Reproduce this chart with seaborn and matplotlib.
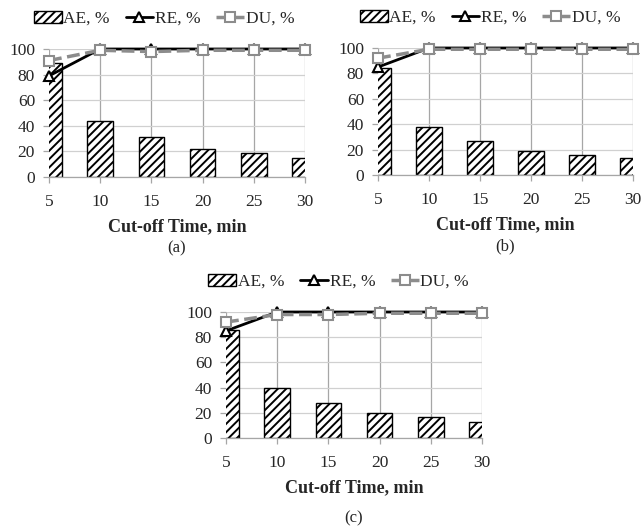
import matplotlib
matplotlib.use("Agg")
import matplotlib.pyplot as plt
import seaborn as sns
import pandas as pd

sns.set_theme(style="white")
plt.rcParams['font.family'] = ['Liberation Serif', 'DejaVu Serif']
plt.rcParams['hatch.linewidth'] = 1.4

cutoff = [5, 10, 15, 20, 25, 30]
ae_a = [89, 44, 31, 22, 19, 15]
re_a = [79, 100, 100, 100, 100, 100]
du_a = [91, 99, 98, 99, 99, 99]
ae_b = [84, 38, 27, 19, 16, 13]
re_b = [85, 100, 100, 100, 100, 100]
du_b = [92, 99, 99, 99, 99, 99]
ae_c = [86, 40, 28, 20, 17, 13]
re_c = [85, 100, 100, 100, 100, 100]
du_c = [92, 98, 98, 99, 99, 99]
panel_labels = ['(a)', '(b)', '(c)']
yticks = [0, 20, 40, 60, 80, 100]

W, H = 643, 529
fig = plt.figure(figsize=(W / 100, H / 100), dpi=100)

def rect(x0, x1, ytop, ybot):
    return [x0 / W, (H - ybot) / H, (x1 - x0) / W, (ybot - ytop) / H]

rects = [rect(49, 305, 49, 177), rect(378, 633, 48, 175), rect(226, 482, 312, 438)]
datasets = [(ae_a, re_a, du_a), (ae_b, re_b, du_b), (ae_c, re_c, du_c)]
legend_x = [0.45, 0.44, 0.44]
label_y = [-0.56, -0.56, -0.64]

for r, (ae, re_, du), lab, lx, ly in zip(rects, datasets, panel_labels, legend_x, label_y):
    ax = fig.add_axes(r)
    df = pd.DataFrame({'t': cutoff, 'AE': ae, 'RE': re_, 'DU': du})
    sns.barplot(data=df, x='t', y='AE', native_scale=True, width=0.5, color='white',
                edgecolor='black', linewidth=1.0, hatch='////', saturation=1,
                label='AE, %', ax=ax, zorder=2)
    sns.lineplot(data=df, x='t', y='RE', color='black', linewidth=2.0, marker='^',
                 markersize=7, markerfacecolor='white', markeredgecolor='black',
                 markeredgewidth=1.5, label='RE, %', ax=ax, zorder=3, clip_on=False)
    sns.lineplot(data=df, x='t', y='DU', color='#8c8c8c', linewidth=2.5, linestyle='--',
                 marker='s', markersize=6.5, markerfacecolor='white', markeredgecolor='#8c8c8c',
                 markeredgewidth=1.5, label='DU, %', ax=ax, zorder=4, clip_on=False)
    ax.set_xlim(5, 30)
    ax.set_ylim(0, 100)
    ax.set_xticks(cutoff)
    ax.set_yticks(yticks)
    ax.xaxis.grid(True, color='#a6a6a6', linewidth=0.9)
    ax.yaxis.grid(True, color='#d0d0d0', linewidth=0.9)
    ax.set_axisbelow(True)
    for s in ['top', 'right', 'left']:
        ax.spines[s].set_visible(False)
    ax.spines['bottom'].set_color('#a6a6a6')
    ax.spines['bottom'].set_linewidth(0.9)
    ax.tick_params(axis='both', which='both', length=4, width=0.9, color='#a6a6a6',
                   labelsize=12.5, pad=6, direction='out', bottom=True, left=True)
    ax.tick_params(axis='x', pad=8)
    ax.set_xlabel('Cut-off Time, min', fontsize=13, fontweight='bold', labelpad=6)
    ax.set_ylabel('')
    handles, labels = ax.get_legend_handles_labels()
    order = [labels.index(l) for l in ['AE, %', 'RE, %', 'DU, %']]
    ax.legend([handles[i] for i in order], [labels[i] for i in order],
              loc='lower center', bbox_to_anchor=(lx, 1.12), ncol=3, frameon=False,
              fontsize=12.5, handlelength=1.6, handletextpad=0.1, columnspacing=0.9,
              borderaxespad=0)
    ax.text(0.5, ly, lab, transform=ax.transAxes, ha='center', va='center', fontsize=12)

fig.savefig('out.png', dpi=100)
